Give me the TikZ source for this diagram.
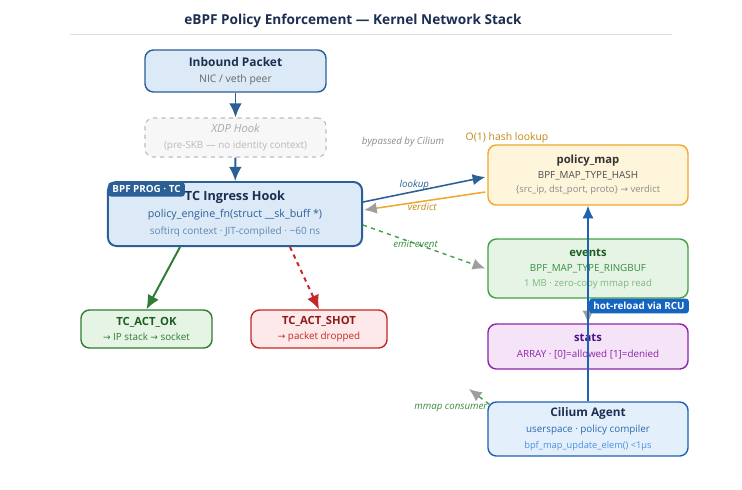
\documentclass[tikz,border=0pt]{standalone}
\usepackage{fontspec}
\setmainfont{Open Sans}
\newfontfamily\dvfont{DejaVu Sans}
\usepackage{tikz}
\usetikzlibrary{arrows.meta,calc,positioning}
\definecolor{navy}{HTML}{1C2F52}
\definecolor{pktfill}{HTML}{DCEAF8}
\definecolor{pktline}{HTML}{2B5F96}
\definecolor{xdpline}{HTML}{BDBDBD}
\definecolor{xdptext}{HTML}{A9A9A9}
\definecolor{mapfill}{HTML}{FFF5DB}
\definecolor{mapline}{HTML}{F0A830}
\definecolor{maptext}{HTML}{C08A12}
\definecolor{evfill}{HTML}{E6F4E6}
\definecolor{evline}{HTML}{43A047}
\definecolor{evdark}{HTML}{1B5E20}
\definecolor{evmid}{HTML}{388E3C}
\definecolor{evlight}{HTML}{7CB87C}
\definecolor{okline}{HTML}{2E7D32}
\definecolor{shotfill}{HTML}{FDE9E9}
\definecolor{shotline}{HTML}{C62828}
\definecolor{shotdark}{HTML}{8E1B1B}
\definecolor{stfill}{HTML}{F5E4F7}
\definecolor{stline}{HTML}{8E24AA}
\definecolor{stdark}{HTML}{4A148C}
\definecolor{agfill}{HTML}{E3F0FC}
\definecolor{agline}{HTML}{1E63B0}
\definecolor{agtext}{HTML}{2A6AB0}
\definecolor{aglight}{HTML}{4A90E2}
\definecolor{badgeblue}{HTML}{1565C0}
\definecolor{headgray}{HTML}{9E9E9E}
\newcommand\hd[1]{{\fontsize{8}{10}\selectfont\bfseries #1}}
\newcommand\rarr{{\dvfont\fontsize{6.4}{8}\selectfont →}}
\tikzset{
  box/.style={draw, rounded corners=6pt, line width=1pt, align=center, inner sep=0pt,
    font=\fontsize{7}{11.4}\selectfont},
  mapbox/.style={box, minimum width=5cm},
  badge/.style={rounded corners=2pt, inner xsep=3pt, inner ysep=2.5pt, text=white,
    font=\fontsize{7}{8}\selectfont\bfseries},
  flow/.style={line width=1.4pt, -{Latex[length=10pt,width=9pt]}},
  tag/.style={font=\fontsize{6.9}{8}\selectfont\itshape, inner sep=1pt}
}
\begin{document}
\begin{tikzpicture}[x=0.025cm,y=-0.025cm]
\useasboundingbox[fill=white] (0,0) rectangle (742,489);
\node[text=navy, font=\fontsize{9.7}{12}\selectfont\bfseries] (title) at (353,21)
  {eBPF Policy Enforcement — Kernel Network Stack};
\draw[black!13] (70,34) -- (672,34);

\node[box, fill=pktfill, draw=pktline, minimum width=4.525cm, minimum height=1.05cm,
  text=black!60, font=\fontsize{7.4}{11.4}\selectfont] (inbound) at (235.5,71)
  {\textcolor{navy}{{\fontsize{8.5}{10}\selectfont\bfseries Inbound Packet}}\\NIC / veth peer};
\node[box, fill=black!3, draw=xdpline, dashed, line width=0.8pt, minimum width=4.525cm,
  minimum height=0.975cm, text=xdptext!80, font=\fontsize{7}{11.4}\selectfont] (xdp) at (235.5,137.5)
  {{\fontsize{8}{10}\selectfont\itshape\color{xdptext} XDP Hook}\\(pre-SKB — no identity context)};
\node[box, fill=pktfill, draw=pktline, line width=1.4pt, minimum width=6.35cm,
  minimum height=1.6cm, font=\fontsize{7.4}{12.2}\selectfont] (tc) at (235,214)
  {\textcolor{navy}{{\fontsize{9}{11}\selectfont\bfseries TC Ingress Hook}}\\
   \textcolor{pktline}{\fontsize{7.6}{12.2}\selectfont policy\_engine\_fn(struct \_\_sk\_buff *)}\\
   \textcolor{pktline!75}{\fontsize{7.1}{12.2}\selectfont softirq context · JIT-compiled · \textasciitilde60 ns}};
\node[badge, fill=pktline, anchor=north west] (prog) at ($(tc.north west)+(1,1)$)
  {BPF PROG · TC};

\node[mapbox, fill=mapfill, draw=mapline, minimum height=1.5cm,
  font=\fontsize{7}{10.4}\selectfont] (policy) at (588,175)
  {\textcolor{black!80}{\hd{policy\_map}}\\
   \textcolor{black!70}{BPF\_MAP\_TYPE\_HASH}\\
   \textcolor{black!45}{\fontsize{6.7}{10.4}\selectfont\{src\_ip, dst\_port, proto\} \rarr{} verdict}};
\node[mapbox, fill=evfill, draw=evline, minimum height=1.475cm,
  font=\fontsize{7}{10.7}\selectfont] (events) at (588,268.5)
  {\textcolor{evdark}{\hd{events}}\\
   \textcolor{evmid}{BPF\_MAP\_TYPE\_RINGBUF}\\
   \textcolor{evlight}{\fontsize{6.8}{10.7}\selectfont 1 MB · zero-copy mmap read}};
\node[mapbox, fill=stfill, draw=stline, minimum height=1.125cm, text=stline]
  (stats) at (588,346.5)
  {\textcolor{stdark}{\hd{stats}}\\ARRAY · [0]=allowed [1]=denied};
\node[mapbox, fill=agfill, draw=agline, minimum height=1.35cm] (agent) at (588,429)
  {\textcolor{navy}{{\fontsize{8.4}{10}\selectfont\bfseries Cilium Agent}}\\
   \textcolor{agtext}{userspace · policy compiler}\\
   \textcolor{aglight}{\fontsize{6.6}{11.4}\selectfont bpf\_map\_update\_elem() <1µs}};

\node[box, fill=evfill, draw=okline, minimum width=3.275cm, minimum height=0.95cm,
  text=okline, font=\fontsize{7}{10.7}\selectfont] (ok) at (146.5,329)
  {\textcolor{evdark}{\hd{TC\_ACT\_OK}}\\\rarr{} IP stack \rarr{} socket};
\node[box, fill=shotfill, draw=shotline, minimum width=3.4cm, minimum height=0.95cm,
  text=shotline, font=\fontsize{7}{10.7}\selectfont] (shot) at (319,329)
  {\textcolor{shotdark}{\hd{TC\_ACT\_SHOT}}\\\rarr{} packet dropped};

\draw[flow, pktline] (inbound) -- (xdp);
\draw[flow, pktline] (xdp) -- (tc);
\draw[flow, okline] ($(tc.south)+(-55,0)$) -- (ok.north);
\draw[flow, shotline, dashed] ($(tc.south)+(55,0)$) -- (shot.north);
\draw[pktline, line width=1.1pt, -{Latex[length=9pt,width=8pt]}]
  ($(tc.north east)+(0,21)$) -- node[tag, above, text=pktline, pos=0.42] {lookup} ($(policy.west)+(-2,2)$);
\draw[mapline, line width=1.1pt, -{Latex[length=9pt,width=8pt,color=headgray]}]
  ($(policy.west)+(-2,17)$) -- node[tag, below, text=maptext, pos=0.52] {verdict} ($(tc.north east)+(1,29)$);
\draw[evline, line width=1pt, dashed, -{Latex[length=9pt,width=8pt,color=headgray]}]
  ($(tc.north east)+(0,44)$) -- node[tag, text=evmid, pos=0.43] {emit event} ($(events.west)+(-2,0)$);
\draw[headgray, line width=1pt, -{Latex[length=9pt,width=8pt]}] (events) -- (stats);
\draw[agline, line width=1.1pt, -{Latex[length=9pt,width=8pt]}] (agent.north) -- (policy.south);
\coordinate (mmapend) at (469,389);
\draw[evline, line width=1pt, dashed, -{Latex[length=9pt,width=8pt,color=headgray]}]
  ($(agent.north west)+(2,3)$) -- (mmapend);
\node[tag, text=evmid, anchor=east] (mmap) at (489,408) {mmap consumer};
\node[badge, fill=badgeblue] (rcu) at (639,306) {hot-reload via RCU};
\node[tag, text=black!45] (bypass) at (403,142) {bypassed by Cilium};
\node[text=maptext, font=\fontsize{7.4}{9}\selectfont, inner sep=0pt] (olabel) at (507,138)
  {O(1) hash lookup};
\end{tikzpicture}
\end{document}
